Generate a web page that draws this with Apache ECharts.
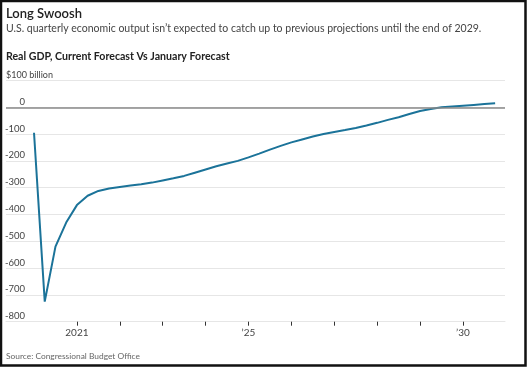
<!DOCTYPE html>
<html>
<head>
<meta charset="utf-8">
<script src="https://cdn.jsdelivr.net/npm/echarts@6/dist/echarts.min.js"></script>
<style>
html,body{margin:0;padding:0;background:#fff;}
#chart{width:528px;height:367px;}
</style>
</head>
<body>
<div id="chart"></div>
<script>
// Quarterly data, 2020 Q1 .. 2030 Q4 (year fraction)
const startYear = 2020;
const gdpGap = [
  -95, -725, -520, -430,
  -365, -330, -312, -303,
  -297, -292, -287, -281,
  -273, -265, -256, -244,
  -232, -220, -210, -200,
  -187, -173, -158, -144,
  -131, -120, -109, -100,
  -92, -85, -77, -68,
  -58, -47, -37, -25,
  -14, -6, 0, 3,
  6, 9, 12, 15
];
const yTicks = [100, 0, -100, -200, -300, -400, -500, -600, -700, -800];
const yUnitLabel = '$100 billion';
const xTickYears = [2021, 2022, 2023, 2024, 2025, 2026, 2027, 2028, 2029, 2030];
const xLabelYears = [2021, 2025, 2030];
const xLabelText = {2021: '2021', 2025: '\u201925', 2030: '\u201930'};

const titleText = 'Long Swoosh';
const subtitleText = 'U.S. quarterly economic output isn\u2019t expected to catch up to previous projections until the end of 2029.';
const chartTitleText = 'Real GDP, Current Forecast Vs January Forecast';
const sourceText = 'Source: Congressional Budget Office';

const seriesData = gdpGap.map((v, i) => [startYear + i * 0.25, v]);
const FONT = 'Lato';

const chart = echarts.init(document.getElementById('chart'), null, {renderer: 'canvas'});
chart.setOption({
  animation: false,
  backgroundColor: '#fff',
  grid: {left: 6, right: 23, top: 80.5, bottom: 45.3, containLabel: false, outerBoundsMode: 'none'},
  xAxis: {
    type: 'value',
    min: 2019.347,
    max: 2030.98,
    axisLine: {show: true, onZero: false, lineStyle: {color: '#e6e6e6', width: 1}},
    splitLine: {show: false},
    axisTick: {show: true, customValues: xTickYears, length: 4, lineStyle: {color: '#333', width: 1}},
    axisLabel: {
      customValues: xLabelYears,
      formatter: v => xLabelText[v] || '',
      color: '#444', fontSize: 10, fontFamily: FONT, margin: 6
    }
  },
  yAxis: {
    type: 'value',
    min: -800, max: 100, interval: 100,
    axisLine: {show: false},
    axisTick: {show: false},
    splitLine: {show: true, lineStyle: {color: '#e6e6e6', width: 1}},
    axisLabel: {
      inside: true,
      margin: 19,
      align: 'right',
      verticalAlign: 'bottom',
      lineHeight: 11,
      formatter: v => (v === 100 ? '' : String(v)),
      color: '#444', fontSize: 9.5, fontFamily: FONT
    }
  },
  graphic: [
    {type: 'text', left: 6, top: 7, style: {text: titleText, font: '600 13px Lato', fill: '#222'}},
    {type: 'text', left: 6, top: 23, style: {text: subtitleText, font: '10.5px Lato', fill: '#444'}},
    {type: 'text', left: 6, top: 51, style: {text: chartTitleText, font: 'bold 10.6px Lato', fill: '#222'}},
    {type: 'text', left: 6, top: 71, style: {text: yUnitLabel, font: '9px Lato', fill: '#444'}},
    {type: 'text', left: 6, top: 352, style: {text: sourceText, font: '8.4px Lato', fill: '#666'}},
    {type: 'rect', shape: {x: 1, y: 1, width: 524.5, height: 364.5}, style: {fill: 'none', stroke: '#111', lineWidth: 2.5}, z: 100}
  ],
  series: [
    {
      type: 'line',
      data: seriesData,
      showSymbol: false,
      lineStyle: {color: '#1b7399', width: 2},
      markLine: {
        silent: true, symbol: 'none', label: {show: false},
        lineStyle: {color: '#888', width: 1.5, type: 'solid'},
        data: [{yAxis: 0}]
      }
    }
  ]
});
</script>
</body>
</html>
